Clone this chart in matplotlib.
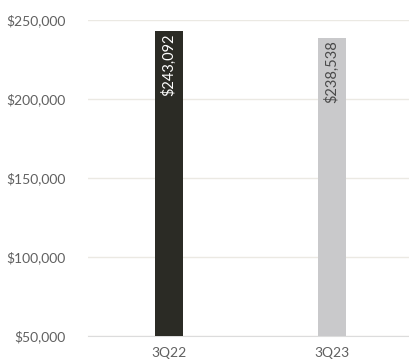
import matplotlib
matplotlib.use("Agg")
import matplotlib.pyplot as plt
from matplotlib.ticker import FuncFormatter

# Quarterly values
quarters = ["3Q22", "3Q23"]
values = [243092, 238538]
bar_colors = ["#2b2b25", "#c9c9cb"]
label_colors = ["#ffffff", "#4a4a4a"]

plt.rcParams["font.family"] = ["Lato", "DejaVu Sans"]

fig = plt.figure(figsize=(4.09, 3.62), dpi=100)
ax = fig.add_axes([88 / 409, 26 / 362, 321 / 409, 316 / 362])

x = range(len(quarters))
ax.bar(x, values, width=0.172, color=bar_colors, zorder=3)

for i, v in enumerate(values):
    ax.text(i, v - 1500, f"${v:,}", rotation=90, ha="center", va="top",
            color=label_colors[i], fontsize=10.5, zorder=4)

ax.set_ylim(50000, 250000)
ax.set_xlim(-0.497, 1.472)
ax.set_yticks([50000, 100000, 150000, 200000, 250000])
ax.yaxis.set_major_formatter(FuncFormatter(lambda v, p: f"${v:,.0f}"))
ax.set_xticks(list(x))
ax.set_xticklabels(quarters)

ax.grid(axis="y", color="#ebe9e3", linewidth=1, zorder=0)
for s in ["top", "right", "left"]:
    ax.spines[s].set_visible(False)
ax.spines["bottom"].set_color("#dcdcdc")
ax.tick_params(axis="both", length=0, labelsize=10, colors="#606060")
ax.tick_params(axis="y", pad=16)
ax.tick_params(axis="x", pad=8)

fig.savefig("out.png", dpi=100)
